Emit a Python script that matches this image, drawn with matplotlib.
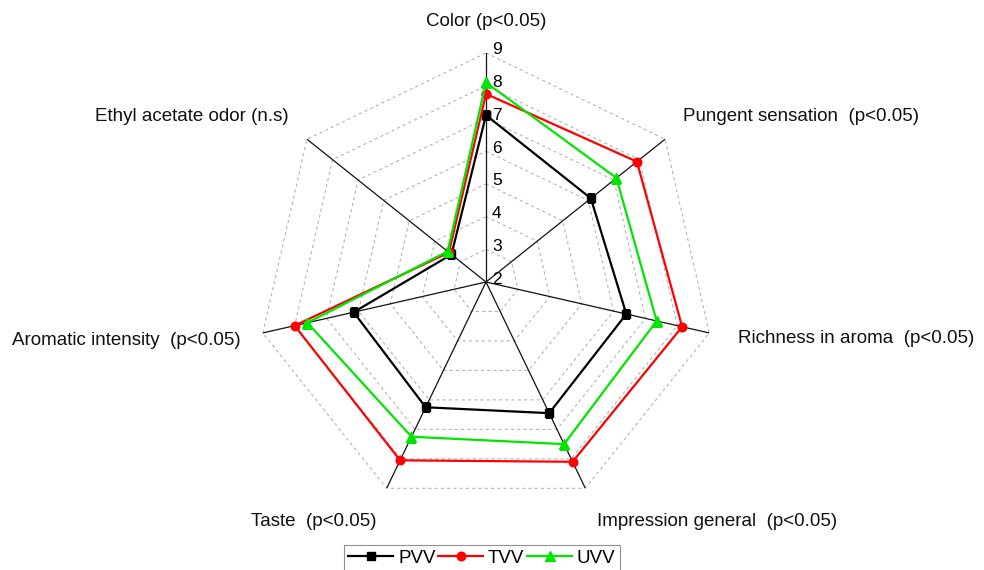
import numpy as np
import matplotlib
matplotlib.use('Agg')
import matplotlib.pyplot as plt

plt.rcParams['font.family'] = ['Liberation Sans', 'DejaVu Sans']

# ---- data ----
categories = ["Color (p<0.05)", "Pungent sensation  (p<0.05)", "Richness in aroma  (p<0.05)",
              "Impression general  (p<0.05)", "Taste  (p<0.05)", "Aromatic intensity  (p<0.05)",
              "Ethyl acetate odor (n.s)"]
pvv = [7.1, 6.1, 6.4, 6.45, 6.25, 6.15, 3.35]
tvv = [7.75, 7.9, 8.15, 8.1, 8.05, 8.0, 3.45]
uvv = [8.1, 7.1, 7.35, 7.5, 7.25, 7.6, 3.5]
series_names = ["PVV", "TVV", "UVV"]
ticks = [2, 3, 4, 5, 6, 7, 8, 9]

# ---- layout (label offsets in pixels from spoke ends) ----
label_layout = [
    ('center', (0, 27)),
    ('left', (18, 18)),
    ('left', (29, -10)),
    ('left', (12, -38)),
    ('right', (-10, -38)),
    ('right', (-22, -12)),
    ('right', (-18, 18)),
]

fig = plt.figure(figsize=(9.84, 5.7), dpi=100)
ax = fig.add_axes([257 / 984, 59 / 570, 458 / 984, 458 / 570], projection='polar')
ax.set_theta_offset(np.pi / 2)
ax.set_theta_direction(-1)
ax.set_ylim(ticks[0], ticks[-1])
ax.axis('off')

n = len(categories)
theta = np.arange(n) * 2 * np.pi / n
closed = np.append(theta, theta[0])

# polygon grid
for r in ticks[1:]:
    ax.plot(closed, [r] * (n + 1), color='#b0b0b0', lw=0.75, ls=(0, (3, 3)), zorder=1)
# spokes
for t in theta:
    ax.plot([t, t], [ticks[0], ticks[-1]], color='#111111', lw=0.9, zorder=2)

styles = [('black', 's', 5.2), ('#ff0000', 'o', 6.2), ('#00e600', '^', 6.8)]
for name, vals, (c, m, ms) in zip(series_names, [pvv, tvv, uvv], styles):
    ax.plot(closed, list(vals) + [vals[0]], color=c, lw=1.6, marker=m, ms=ms,
            markeredgecolor=c, markerfacecolor=c, label=name, zorder=3)

# radial tick labels
for r in ticks:
    ax.annotate(str(r), xy=(0, r), xytext=(6, 3), textcoords='offset pixels',
                ha='left', va='center', fontsize=12.5, color='black')

# category labels
for t, lab, (ha, off) in zip(theta, categories, label_layout):
    ax.annotate(lab, xy=(t, ticks[-1]), xytext=off, textcoords='offset pixels',
                ha=ha, va='baseline', fontsize=13.5, color='#111111', annotation_clip=False)

leg = fig.legend(loc='upper center', bbox_to_anchor=(482 / 984, 25 / 570), ncol=3,
                 fontsize=13.5, handlelength=2.4, handletextpad=0.25, columnspacing=0.15,
                 borderpad=0.25, borderaxespad=0, fancybox=False, frameon=True)
leg.get_frame().set_edgecolor('#777777')
leg.get_frame().set_linewidth(0.8)

fig.savefig('out.png', dpi=100)
